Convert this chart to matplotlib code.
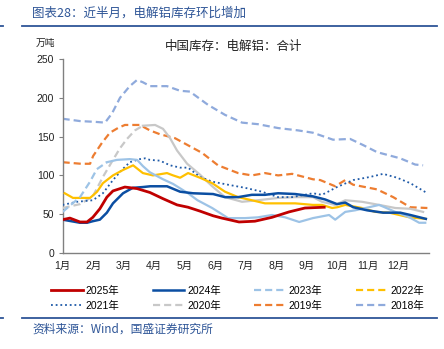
import numpy as np
import matplotlib
matplotlib.use("Agg")
import matplotlib.pyplot as plt
from matplotlib.lines import Line2D

plt.rcParams['font.family'] = ['Liberation Sans', 'Noto Sans CJK SC', 'DejaVu Sans']

# x: position in months (0 = 1月1日), y: 万吨
months = ["1月", "2月", "3月", "4月", "5月", "6月", "7月", "8月", "9月", "10月", "11月", "12月"]

t2025 = [0, 0.24, 0.57, 0.8, 0.99, 1.22, 1.45, 1.65, 2.04, 2.44, 2.86, 3.29, 3.75, 4.11, 4.5, 4.93, 5.22, 5.78, 6.3, 6.86, 7.42, 7.94, 8.57]
v2025 = [43, 45, 40, 40, 46, 57, 72, 80, 85, 83, 78, 70, 62, 59, 54, 48, 45, 40, 41, 46, 53, 58, 59]

t2024 = [0, 0.57, 0.8, 0.99, 1.22, 1.45, 1.65, 1.98, 2.3, 2.63, 2.87, 3.42, 3.85, 4.27, 4.93, 5.32, 5.75, 6.2, 6.63, 7.06, 7.62, 8.2, 8.6, 8.99, 9.26, 9.52, 9.98, 10.5, 11.06, 11.39, 11.9]
v2024 = [43, 39, 39, 41, 43, 52, 64, 77, 84, 85, 86, 86, 79, 77, 76, 72, 72, 75, 75, 77, 76, 73, 69, 63, 65, 59, 55, 52, 52, 49, 44]

t2023 = [0, 0.57, 0.9, 1.12, 1.45, 1.78, 2.2, 2.44, 2.63, 2.86, 3.29, 3.62, 4.11, 4.42, 4.9, 5.42, 5.98, 6.4, 6.86, 7.29, 7.75, 8.2, 8.73, 8.93, 9.26, 9.58, 10.04, 10.37, 10.9, 11.36, 11.68, 11.88]
v2023 = [53, 72, 92, 108, 117, 120, 121, 120, 112, 104, 95, 89, 77, 68, 58, 45, 45, 46, 49, 46, 40, 45, 49, 43, 53, 55, 59, 62, 53, 46, 39, 39]

t2022 = [0.07, 0.34, 0.9, 1.13, 1.32, 1.65, 1.98, 2.2, 2.31, 2.63, 2.96, 3.42, 3.62, 3.85, 4.11, 4.5, 4.9, 5.32, 5.75, 6.2, 6.63, 7.06, 7.62, 8.2, 8.5, 8.83, 9.0, 9.26, 9.81, 10.24, 10.7, 11.36, 11.9]
v2022 = [77, 71, 71, 79, 90, 100, 107, 111, 113, 103, 100, 103, 100, 97, 103, 97, 90, 79, 72, 68, 64, 64, 64, 62, 62, 58, 59, 62, 58, 53, 52, 46, 44]

t2021 = [0, 0.47, 0.99, 1.32, 1.65, 1.94, 2.2, 2.53, 2.7, 2.86, 3.19, 3.52, 3.85, 4.11, 4.5, 4.9, 5.42, 5.98, 6.53, 7.06, 7.52, 8.2, 8.5, 8.99, 9.52, 10.07, 10.5, 10.96, 11.39, 11.95]
v2021 = [62, 66, 68, 77, 94, 107, 117, 121, 122, 120, 119, 113, 110, 110, 98, 92, 88, 84, 79, 72, 72, 77, 75, 85, 94, 98, 102, 97, 90, 77]

t2020 = [0, 0.57, 0.99, 1.32, 1.65, 1.88, 2.11, 2.37, 2.63, 3.03, 3.29, 3.52, 3.75, 4.08, 4.5, 4.9, 5.32, 5.88, 6.4, 7.06, 7.62, 8.2, 8.5, 8.93, 9.26, 9.81, 10.37, 10.9, 11.39, 11.81]
v2020 = [58, 63, 73, 98, 120, 135, 147, 158, 164, 165, 160, 148, 132, 115, 101, 86, 72, 66, 68, 71, 72, 72, 66, 62, 68, 66, 62, 58, 57, 53]

t2019 = [0, 0.6, 0.9, 1.0, 1.29, 1.55, 1.81, 2.04, 2.53, 2.86, 3.19, 3.68, 4.1, 4.57, 5.09, 5.75, 6.2, 6.63, 7.06, 7.52, 8.2, 8.44, 8.93, 9.26, 9.52, 10.3, 10.83, 11.39, 11.95]
v2019 = [117, 115, 115, 125, 142, 155, 161, 165, 165, 158, 153, 148, 139, 129, 113, 103, 100, 103, 100, 102, 95, 94, 86, 94, 88, 82, 72, 59, 58]

t2018 = [0, 0.57, 1.06, 1.39, 1.62, 1.88, 2.2, 2.44, 2.63, 2.87, 3.42, 3.85, 4.17, 4.76, 5.32, 5.88, 6.4, 7.06, 7.71, 8.2, 8.86, 9.42, 9.85, 10.3, 11.06, 11.55, 11.81]
v2018 = [173, 170, 169, 168, 180, 200, 215, 223, 220, 215, 215, 209, 208, 191, 178, 168, 166, 161, 158, 155, 146, 147, 139, 130, 122, 114, 113]

dash = (3.2, 1.8)

fig = plt.figure(figsize=(4.44, 3.49), dpi=100)
ax = fig.add_axes([0.141, 0.275, 0.825, 0.556])


def split_plot(t, v, until, color, lw, z):
    # dashed start, solid rest
    t = np.array(t)
    v = np.array(v)
    k = np.searchsorted(t, until)
    ax.plot(t[:k + 1], v[:k + 1], color=color, lw=lw, ls=(0, dash), zorder=z)
    ax.plot(t[k:], v[k:], color=color, lw=lw, zorder=z)


ax.plot(t2018, v2018, color="#8FAADC", lw=1.6, ls=(0, dash), zorder=1)
ax.plot(t2019, v2019, color="#ED7D31", lw=1.6, ls=(0, dash), zorder=2)
split_plot(t2020, v2020, 2.63, "#C8C8C8", 1.6, 3)
ax.plot(t2021, v2021, color="#1F5AA8", lw=1.3, ls=(0, (1, 1.6)), zorder=4)
ax.plot(t2022, v2022, color="#FFC000", lw=1.6, zorder=5)
split_plot(t2023, v2023, 1.45, "#9DC3E6", 1.6, 6)
ax.plot(t2024, v2024, color="#0B4EA2", lw=1.8, zorder=7)
ax.plot(t2025, v2025, color="#C00000", lw=2.0, zorder=8)

ax.set_xlim(0, 12)
ax.set_ylim(0, 250)
ax.set_yticks(range(0, 251, 50))
ax.set_xticks(range(12))
ax.set_xticklabels(months, family=['Liberation Sans', 'Noto Sans CJK SC'])
for s in ["top", "right"]:
    ax.spines[s].set_visible(False)
for s in ["left", "bottom"]:
    ax.spines[s].set_color("#808080")
    ax.spines[s].set_linewidth(1.0)
ax.tick_params(axis="y", direction="out", length=3, color="#808080", labelsize=7.5, pad=3, labelcolor="#222222")
ax.tick_params(axis="x", length=0, labelsize=7.5, pad=6, labelcolor="#222222")

# header / footer
blue = "#2E5597"
fig.text(0.072, 0.963, "图表28：近半月，电解铝库存环比增加", color=blue, fontsize=9,
         family=['Noto Sans CJK SC'], style="italic", va="center")
fig.add_artist(Line2D([0.05, 0.984], [0.926, 0.926], color=blue, lw=1.3))
fig.add_artist(Line2D([0.0, 0.006], [0.926, 0.926], color=blue, lw=1.3))
fig.text(0.08, 0.878, "万吨", fontsize=7, family=['Noto Sans CJK SC'], va="center", color="#222222")
fig.text(0.525, 0.868, "中国库存：电解铝：合计", fontsize=9, family=['Noto Sans CJK SC'],
         ha="center", va="center", color="#222222")
fig.add_artist(Line2D([0.05, 0.984], [0.089, 0.089], color=blue, lw=1.3))
fig.add_artist(Line2D([0.0, 0.006], [0.089, 0.089], color=blue, lw=1.3))
fig.text(0.072, 0.057, "资料来源：Wind，国盛证券研究所", color=blue, fontsize=8.5,
         family=['Noto Sans CJK SC', 'Liberation Sans'], style="italic", va="center")

# legend, row order
h = {
    "2025年": Line2D([], [], color="#C00000", lw=2.0),
    "2024年": Line2D([], [], color="#0B4EA2", lw=1.8),
    "2023年": Line2D([], [], color="#9DC3E6", lw=1.6, ls=(0, dash)),
    "2022年": Line2D([], [], color="#FFC000", lw=1.6, ls=(0, dash)),
    "2021年": Line2D([], [], color="#1F5AA8", lw=1.3, ls=(0, (1, 1.6))),
    "2020年": Line2D([], [], color="#C8C8C8", lw=1.6, ls=(0, dash)),
    "2019年": Line2D([], [], color="#ED7D31", lw=1.6, ls=(0, dash)),
    "2018年": Line2D([], [], color="#8FAADC", lw=1.6, ls=(0, dash)),
}
order = ["2025年", "2021年", "2024年", "2020年", "2023年", "2019年", "2022年", "2018年"]
fig.legend([h[k] for k in order], order, loc="center", bbox_to_anchor=(0.535, 0.145), ncol=4,
           frameon=False, fontsize=7.5, handlelength=3.0, handletextpad=0.3, columnspacing=3.2,
           labelspacing=0.45, prop={'family': ['Liberation Sans', 'Noto Sans CJK SC'], 'size': 7.5})

fig.savefig("out.png", dpi=100)
